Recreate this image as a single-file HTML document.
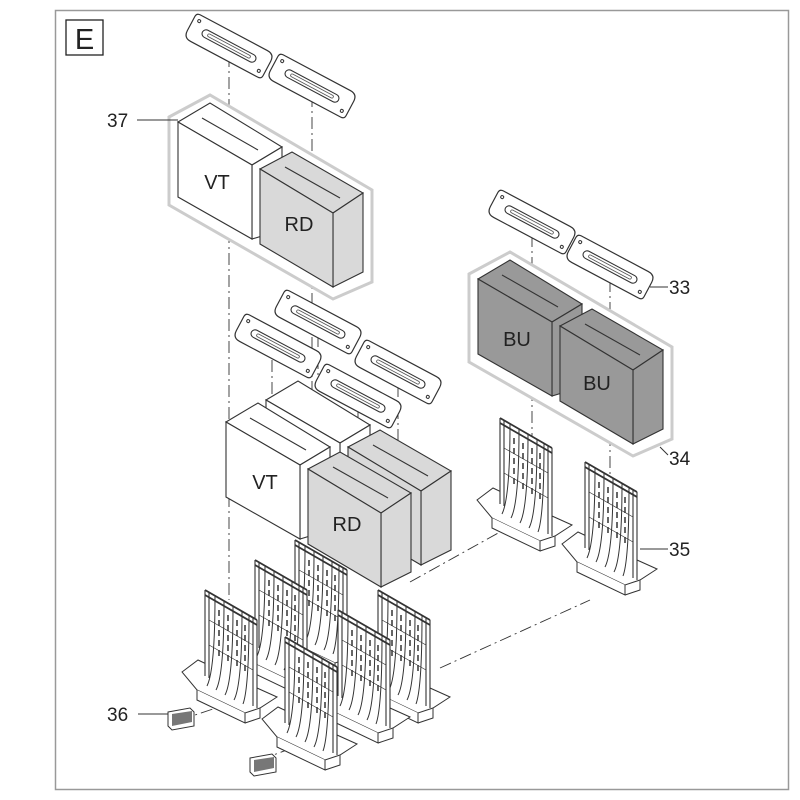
<!DOCTYPE html>
<html><head><style>
body{margin:0;background:#fff}
svg{display:block}
text{font-family:"Liberation Sans",sans-serif}
</style></head><body>
<svg width="800" height="800" viewBox="0 0 800 800" xmlns="http://www.w3.org/2000/svg">
<defs>
<g id="plate">
<path d="M-40,-14 L36,-14 Q44,-14 44,-6 L44,10 Q44,14 40,14 L-36,14 Q-44,14 -44,6 L-44,-10 Q-44,-14 -40,-14Z" fill="#fff" stroke="#333" stroke-width="1.2"/>
<rect x="-30" y="-4" width="60" height="8" rx="4" fill="#fff" stroke="#333" stroke-width="1.1"/>
<rect x="-24" y="-1.5" width="48" height="3" rx="1.5" fill="none" stroke="#555" stroke-width="0.8"/>
<circle cx="-38" cy="-8" r="1.5" fill="none" stroke="#333"/><circle cx="38" cy="8" r="1.5" fill="none" stroke="#333"/>
</g>
<g id="rack" fill="none" stroke="#333" stroke-width="1">
<path d="M-23,82 L-7,70 L52,98 L72,107 L55,118 L40,123 L-8,100 Z" fill="#fff"/>
<path d="M-8,100 L-8,110 L40,133 L40,123 M40,133 L55,128 L55,118" fill="#fff"/>
<path d="M0,0 L52,30 L52,118 L40,118 L0,92Z" fill="#fff" stroke="none"/>
<path d="M0,0 L0,86 M4,2 L4,88 M48,28 L48,116 M52,30 L52,118" stroke-width="1.1"/>
<path d="M0,0 L52,30 M0,5 L52,35" stroke-width="1.8"/>
<path d="M10,6 Q10,80 2,96 M19,11 Q19,85 11,100 M28,16 Q28,90 20,105 M37,21 Q37,95 29,110 M44,25 Q44,98 38,114" />
<path d="M14,20 L14,70 M23,25 L23,75 M32,30 L32,80 M40,35 L40,85" stroke-dasharray="6,4" stroke-width="1.5"/>
<path d="M4,30 L48,55 M4,55 L48,80" stroke-width="0.7"/>
</g>
<g id="cap"><path d="M0,0 L22,-4 L26,0 L26,14 L4,18 L0,14 Z" fill="#fff" stroke="#333"/><path d="M4,2 L24,-1 L24,10 L4,14Z" fill="#777"/></g>
</defs>
<rect x="55.5" y="10.5" width="733" height="779" fill="none" stroke="#999" stroke-width="1.5"/>
<rect x="66" y="20" width="37" height="35" fill="#fff" stroke="#222" stroke-width="1.3"/>
<text x="84.5" y="49" font-size="29" text-anchor="middle" fill="#222">E</text>

<g stroke="#333" stroke-width="0.9" stroke-dasharray="12,4,2,4" fill="none">
<path d="M229,55 L229,600 M312,95 L312,580 M532,235 L532,505 M610,280 L610,545"/>
<path d="M410,582 L500,532 M440,668 L590,600 M180,720 L240,700 M260,760 L300,745"/>
<path d="M272,360 L272,420 M318,335 L318,420 M398,385 L398,440 M358,410 L358,460"/>
</g>

<path d="M169,117 L210,95 L372,190 L372,282 L333,299 L169,205 Z" fill="#fff" stroke="#ccc" stroke-width="3"/>
<g stroke="#333" stroke-width="1.1">
<path d="M178,122 L210,103 L282,147 L252,165Z" fill="#fff"/>
<path d="M252,165 L282,147 L282,230 L252,239Z" fill="#fff"/>
<path d="M178,122 L252,165 L252,239 L178,197Z" fill="#fff"/>
<path d="M202,118 L258,150" fill="none"/>
<path d="M260,169 L292,152 L363,193 L333,213Z" fill="#d9d9d9"/>
<path d="M333,213 L363,193 L363,272 L333,287Z" fill="#d9d9d9"/>
<path d="M260,169 L333,213 L333,287 L260,244Z" fill="#d9d9d9"/>
<path d="M285,167 L340,198" fill="none"/>
</g>
<text x="217" y="189" font-size="20" text-anchor="middle" fill="#222">VT</text>
<text x="299" y="231" font-size="20" text-anchor="middle" fill="#222">RD</text>
<use href="#plate" transform="translate(229,46) rotate(28)"/>
<use href="#plate" transform="translate(312,86) rotate(28)"/>

<path d="M469,274 L510,252 L672,347 L672,439 L633,456 L469,362 Z" fill="#fff" stroke="#ccc" stroke-width="3"/>
<g stroke="#333" stroke-width="1.1" transform="translate(300,157)">
<path d="M178,122 L210,103 L282,147 L252,165Z" fill="#999"/>
<path d="M252,165 L282,147 L282,230 L252,239Z" fill="#999"/>
<path d="M178,122 L252,165 L252,239 L178,197Z" fill="#999"/>
<path d="M202,118 L258,150" fill="none"/>
<path d="M260,169 L292,152 L363,193 L333,213Z" fill="#999"/>
<path d="M333,213 L363,193 L363,272 L333,287Z" fill="#999"/>
<path d="M260,169 L333,213 L333,287 L260,244Z" fill="#999"/>
<path d="M285,167 L340,198" fill="none"/>
</g>
<text x="517" y="346" font-size="20" text-anchor="middle" fill="#222">BU</text>
<text x="597" y="390" font-size="20" text-anchor="middle" fill="#222">BU</text>
<use href="#plate" transform="translate(532,222) rotate(28)"/>
<use href="#plate" transform="translate(610,267) rotate(28)"/>

<use href="#plate" transform="translate(318,322) rotate(28)"/>
<use href="#plate" transform="translate(278,346) rotate(28)"/>
<use href="#plate" transform="translate(398,372) rotate(28)"/>
<use href="#plate" transform="translate(358,396) rotate(28)"/>

<g stroke="#333" stroke-width="1.1" transform="translate(88,278)">
<path d="M178,122 L210,103 L282,147 L252,165Z" fill="#fff"/>
<path d="M252,165 L282,147 L282,230 L252,239Z" fill="#fff"/>
<path d="M178,122 L252,165 L252,239 L178,197Z" fill="#fff"/>
<path d="M260,169 L292,152 L363,193 L333,213Z" fill="#d9d9d9"/>
<path d="M333,213 L363,193 L363,272 L333,287Z" fill="#d9d9d9"/>
<path d="M260,169 L333,213 L333,287 L260,244Z" fill="#d9d9d9"/>
<path d="M285,167 L340,198" fill="none"/>
</g>
<use href="#rack" transform="translate(500,418)"/>
<use href="#rack" transform="translate(585,462)"/>
<use href="#rack" transform="translate(295,540)"/>
<g stroke="#333" stroke-width="1.1" transform="translate(48,300)">
<path d="M178,122 L210,103 L282,147 L252,165Z" fill="#fff"/>
<path d="M252,165 L282,147 L282,230 L252,239Z" fill="#fff"/>
<path d="M178,122 L252,165 L252,239 L178,197Z" fill="#fff"/>
<path d="M202,118 L258,150" fill="none"/>
<path d="M260,169 L292,152 L363,193 L333,213Z" fill="#d9d9d9"/>
<path d="M333,213 L363,193 L363,272 L333,287Z" fill="#d9d9d9"/>
<path d="M260,169 L333,213 L333,287 L260,244Z" fill="#d9d9d9"/>
<path d="M285,167 L340,198" fill="none"/>
</g>
<text x="265" y="489" font-size="20" text-anchor="middle" fill="#222">VT</text>
<text x="347" y="531" font-size="20" text-anchor="middle" fill="#222">RD</text>

<use href="#rack" transform="translate(378,590)"/>
<use href="#rack" transform="translate(255,560)"/>
<use href="#rack" transform="translate(338,610)"/>
<use href="#rack" transform="translate(205,590)"/>
<use href="#rack" transform="translate(285,637)"/>

<use href="#cap" transform="translate(168,712)"/>
<use href="#cap" transform="translate(250,758)"/>

<g stroke="#333" stroke-width="1" fill="none">
<path d="M137,120 L178,120 M650,287 L668,287 M660,447 L668,455 M640,549 L668,549 M138,714 L168,714"/>
</g>
<g font-size="19" fill="#222">
<text x="107" y="127">37</text>
<text x="669" y="294">33</text>
<text x="669" y="465">34</text>
<text x="669" y="556">35</text>
<text x="107" y="721">36</text>
</g>
</svg>
</body></html>
